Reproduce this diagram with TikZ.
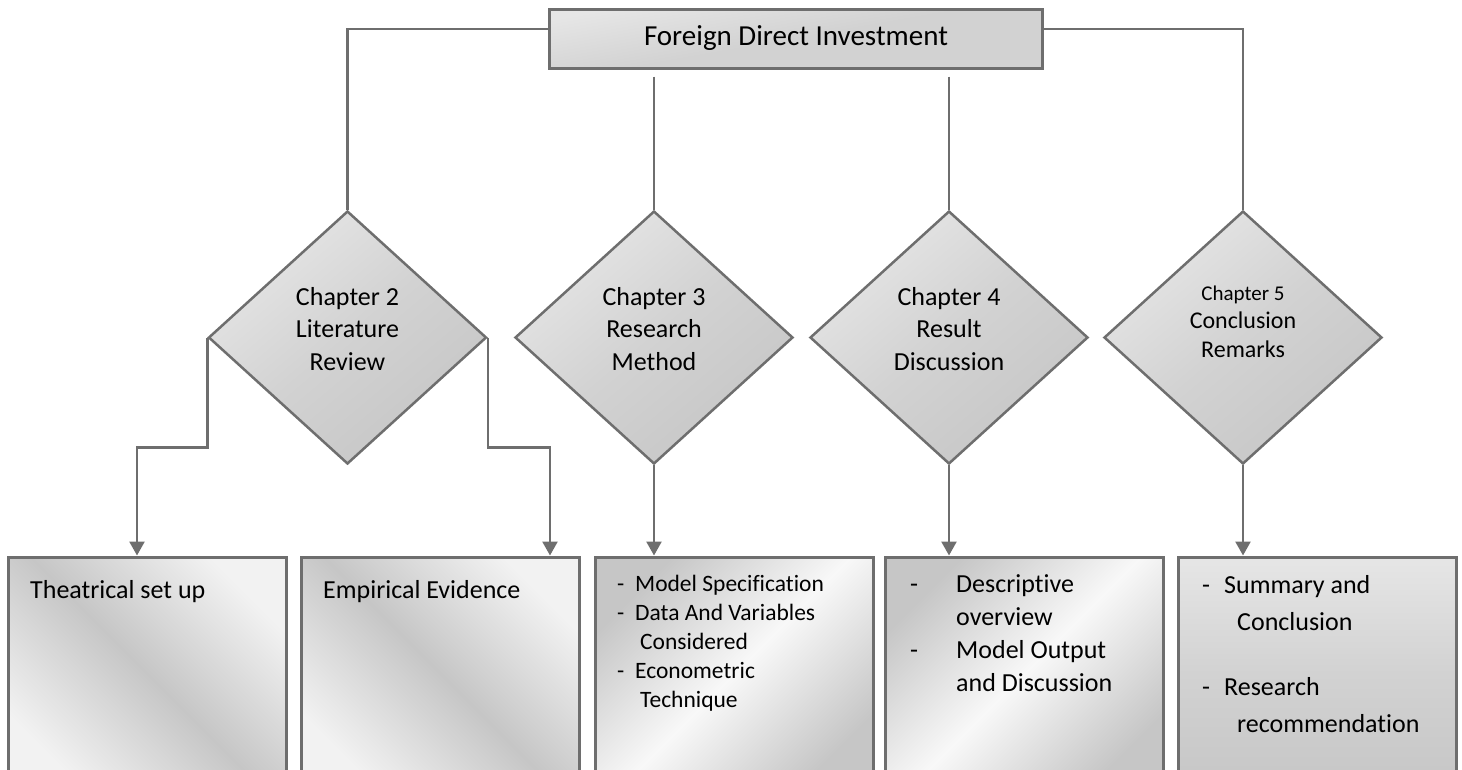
\documentclass[tikz,border=0pt]{standalone}
\usepackage{fontspec}
\setmainfont{Carlito}[Ligatures=NoCommon]
\usetikzlibrary{shapes.geometric,arrows.meta,calc}

\definecolor{linegray}{HTML}{6E6E6E}
\definecolor{greyA}{HTML}{F2F2F2}
\definecolor{greyB}{HTML}{E6E6E6}
\definecolor{greyC}{HTML}{D2D2D2}
\definecolor{greyD}{HTML}{C6C6C6}
\definecolor{greyE}{HTML}{F8F8F8}

\begin{document}
\begin{tikzpicture}[x=1pt,y=-1pt,
  conn/.style={draw=linegray, line width=2.5pt},
  arrowconn/.style={conn, -{Triangle[width=15pt,length=14pt]}},
  % note: middle color must follow top/bottom color, which reset it
  topbox/.style={draw=linegray, line width=3pt, minimum width=493pt,
    minimum height=59pt, inner sep=0pt, top color=greyB, bottom color=greyC,
    middle color=greyC, shading angle=10,
    font=\fontsize{29}{35}\selectfont},
  chapter/.style={diamond, draw=linegray, line width=2.5pt,
    minimum width=278pt, minimum height=253pt, inner sep=0pt,
    top color=greyB, bottom color=greyD, middle color=greyC, shading angle=40},
  chaptertext/.style={anchor=base, inner sep=0pt,
    font=\fontsize{26}{32.5}\selectfont},
  lightband/.style={top color=greyD, bottom color=greyD, middle color=greyE,
    shading angle=45},
  darkband/.style={top color=greyA, bottom color=greyA, middle color=greyD,
    shading angle=-45},
  itembox/.style={draw=linegray, line width=3pt, minimum width=278pt,
    minimum height=233pt, inner sep=0pt},
  itemtext/.style={anchor=base west, inner sep=0pt}
]
\useasboundingbox (0,0) rectangle (1462,769);
\clip (0,0) rectangle (1462,769);

% root
\node[topbox] (top) at (796,38.5) {Foreign Direct Investment};

% chapters
\node[chapter] (d2) at (347.5,337.5) {};
\node[chapter] (d3) at (654,337.5) {};
\node[chapter] (d4) at (949,337.5) {};
\node[chapter] (d5) at (1243,337.5) {};

\node[chaptertext] (t2) at (347.5,305)
  {\begin{tabular}[t]{@{}c@{}}Chapter 2\\Literature\\Review\end{tabular}};
\node[chaptertext] (t3) at (654,305)
  {\begin{tabular}[t]{@{}c@{}}Chapter 3\\Research\\Method\end{tabular}};
\node[chaptertext] (t4) at (949,305)
  {\begin{tabular}[t]{@{}c@{}}Chapter 4\\Result\\Discussion\end{tabular}};
\node[chaptertext, font=\fontsize{24}{28.5}\selectfont] (t5) at (1243,300)
  {\begin{tabular}[t]{@{}c@{}}{\fontsize{21}{25}\selectfont Chapter 5}\\Conclusion\\Remarks\end{tabular}};

% contents of each chapter
\node[itembox, darkband] (b1) at (147,673.5) {};
\node[itembox, darkband] (b2) at (440.5,673.5) {};
\node[itembox, lightband] (b3) at (734.5,673.5) {};
\node[itembox, lightband] (b4) at (1024.5,673.5) {};
\node[itembox, top color=greyB, bottom color=greyD, middle color=greyC] (b5) at (1317.5,673.5) {};

\node[itemtext, font=\fontsize{26}{32}\selectfont] (x1) at (30,598) {Theatrical set up};
\node[itemtext, font=\fontsize{26}{32}\selectfont] (x2) at (323,598) {Empirical Evidence};

\node[itemtext, font=\fontsize{23.5}{29}\selectfont] (x3) at (617,591)
  {\begin{tabular}[t]{@{}l@{}}
   \makebox[18pt][l]{-}Model Specification\\
   \makebox[18pt][l]{-}Data And Variables\\
   \hspace*{23pt}Considered\\
   \makebox[18pt][l]{-}Econometric\\
   \hspace*{23pt}Technique
   \end{tabular}};

\node[itemtext, font=\fontsize{26}{33}\selectfont] (x4) at (910,592)
  {\begin{tabular}[t]{@{}l@{}}
   \makebox[46pt][l]{-}Descriptive\\
   \hspace*{46pt}overview\\
   \makebox[46pt][l]{-}Model Output\\
   \hspace*{46pt}and Discussion
   \end{tabular}};

\node[itemtext, font=\fontsize{26}{37}\selectfont] (x5) at (1202,593)
  {\begin{tabular}[t]{@{}l@{}}
   \makebox[22pt][l]{-}Summary and\\
   \hspace*{35pt}Conclusion\\[28pt]
   \makebox[22pt][l]{-}Research\\
   \hspace*{35pt}recommendation
   \end{tabular}};

% root to chapters
\coordinate (g3) at (d3.north |- top.south);
\coordinate (g4) at (d4.north |- top.south);
\draw[conn] ([yshift=9.5pt]top.west) -| (d2.north);
\draw[conn] ([yshift=9.5pt]top.east) -| (d5.north);
\draw[conn] ($(g3)+(0,7)$) -- (d3.north);
\draw[conn] ($(g4)+(0,7)$) -- (d4.north);

% chapters to contents
\draw[arrowconn] (d2.west) -- ++(0,110) -| ([xshift=-10pt]b1.north);
\draw[arrowconn] (d2.east) -- ++(0,110) -| ([xshift=109.5pt]b2.north);
\draw[arrowconn] (d3.south) -- (d3.south |- b3.north);
\draw[arrowconn] (d4.south) -- (d4.south |- b4.north);
\draw[arrowconn] (d5.south) -- (d5.south |- b5.north);
\end{tikzpicture}
\end{document}
